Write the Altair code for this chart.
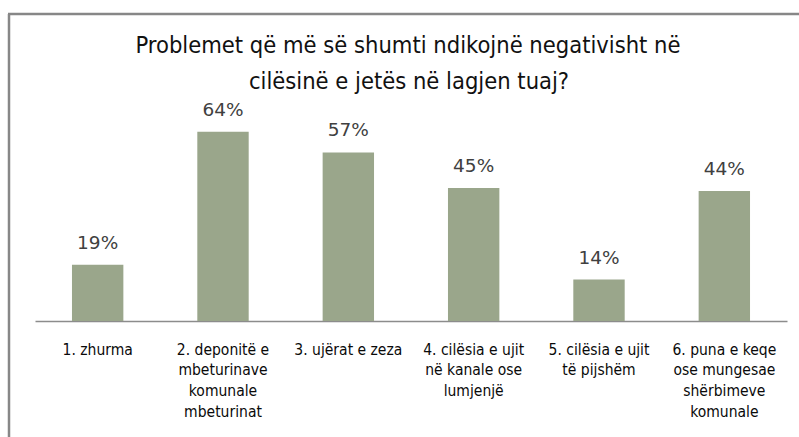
import altair as alt
import pandas as pd

categories = [
    "1. zhurma",
    "2. deponitë e|mbeturinave|komunale|mbeturinat",
    "3. ujërat e zeza",
    "4. cilësia e ujit|në kanale ose|lumjenjë",
    "5. cilësia e ujit|të pijshëm",
    "6. puna e keqe|ose mungesae|shërbimeve|komunale",
]
values = [0.19, 0.64, 0.57, 0.45, 0.14, 0.44]
value_labels = ["19%", "64%", "57%", "45%", "14%", "44%"]
title_lines = [
    "Problemet që më së shumti ndikojnë negativisht në",
    "cilësinë e jetës në lagjen tuaj?",
]

df = pd.DataFrame({"cat": categories, "val": values, "lab": value_labels})
title_df = pd.DataFrame({"t": title_lines, "row": [0, 1]})

NARROW = "DejaVu Sans Condensed, DejaVu Sans, sans-serif"

x_enc = alt.X(
    "cat:N",
    sort=categories,
    scale=alt.Scale(paddingInner=0.59, paddingOuter=0.295),
    axis=alt.Axis(
        title=None,
        labelAngle=0,
        labelExpr="split(datum.label, '|')",
        labelFont=NARROW,
        labelFontSize=15.5,
        labelColor="#0a0a0a",
        labelLineHeight=20.7,
        labelPadding=21,
        labelBaseline="top",
        ticks=False,
        domainColor="#8c8c8c",
        domainWidth=1.5,
        labelLimit=200,
    ),
)
y_enc = alt.Y("val:Q", scale=alt.Scale(domain=[0, 0.7], nice=False), axis=None)

base = alt.Chart(df)
bars = base.mark_bar(color="#9aa68b", opacity=1).encode(x=x_enc, y=y_enc)
texts = base.mark_text(
    baseline="alphabetic", dy=-16, font="DejaVu Sans", fontSize=18.5, color="#404040"
).encode(x=alt.X("cat:N", sort=categories), y="val:Q", text="lab:N")

title1 = alt.Chart(title_df).transform_filter("datum.row == 0").mark_text(
    font=NARROW, fontSize=23.5, color="#111111", align="center", baseline="alphabetic"
).encode(x=alt.value(373), y=alt.value(-61), text="t:N")
title2 = alt.Chart(title_df).transform_filter("datum.row == 1").mark_text(
    font=NARROW, fontSize=23.5, color="#111111", align="center", baseline="alphabetic"
).encode(x=alt.value(374), y=alt.value(-25), text="t:N")

frame_df = pd.DataFrame({"a": [0]})
left_rule = alt.Chart(frame_df).mark_rule(color="#878787", strokeWidth=2.5).encode(
    x=alt.value(-26), y=alt.value(-100), y2=alt.value(330)
)
top_rule = alt.Chart(frame_df).mark_rule(color="#878787", strokeWidth=2.5).encode(
    x=alt.value(-27), x2=alt.value(770), y=alt.value(-100)
)

chart = (
    alt.layer(bars, texts, title1, title2, left_rule, top_rule)
    .properties(
        width=752,
        height=207,
        autosize=alt.AutoSizeParams(type="none"),
        padding={"left": 35, "top": 114, "right": 12, "bottom": 116},
    )
    .configure_view(stroke=None)
)

chart.save("out.html", embed_options={"renderer": "svg", "actions": False})
